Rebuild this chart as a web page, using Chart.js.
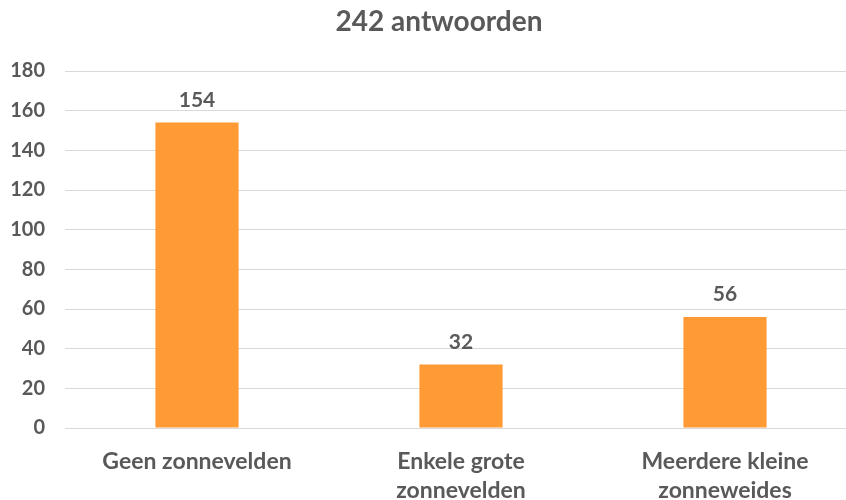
<!DOCTYPE html>
<html>
<head>
<meta charset="utf-8">
<script src="https://cdn.jsdelivr.net/npm/chart.js@4/dist/chart.umd.min.js"></script>
<style>
html,body{margin:0;padding:0;background:#fff;overflow:hidden;width:846px;height:500px;}
#wrap{position:absolute;left:0;top:0;width:880px;height:500px;}
</style>
</head>
<body>
<div id="wrap"><canvas id="c" width="880" height="500"></canvas></div>
<script>
const titleText = "242 antwoorden";
const categories = [["Geen zonnevelden"], ["Enkele grote", "zonnevelden"], ["Meerdere kleine", "zonneweides"]];
const values = [154, 32, 56];
const yTicks = [0, 20, 40, 60, 80, 100, 120, 140, 160, 180];

const textColor = "#595959";
const fontFam = "Lato, 'Open Sans', sans-serif";

const valueLabels = {
  id: "valueLabels",
  afterDatasetsDraw(chart) {
    const ctx = chart.ctx;
    const meta = chart.getDatasetMeta(0);
    ctx.save();
    ctx.font = "bold 21px " + fontFam;
    ctx.fillStyle = textColor;
    ctx.textAlign = "center";
    ctx.textBaseline = "alphabetic";
    meta.data.forEach((bar, i) => {
      ctx.fillText(String(chart.data.datasets[0].data[i]), bar.x, bar.y - 16);
    });
    ctx.restore();
  }
};

const chartTitle = {
  id: "chartTitle",
  afterDraw(chart) {
    const ctx = chart.ctx;
    ctx.save();
    ctx.font = "bold 28px " + fontFam;
    ctx.fillStyle = textColor;
    ctx.textAlign = "center";
    ctx.textBaseline = "middle";
    ctx.fillText(titleText, 439, 22);
    ctx.restore();
  }
};

new Chart(document.getElementById("c"), {
  type: "bar",
  data: {
    labels: categories,
    datasets: [{
      data: values,
      backgroundColor: "#FF9A35",
      borderWidth: 0,
      barPercentage: 0.315,
      categoryPercentage: 1.0
    }]
  },
  options: {
    responsive: false,
    animation: false,
    devicePixelRatio: 1,
    layout: { padding: { left: 0, right: 23, top: 71, bottom: 0 } },
    plugins: {
      legend: { display: false },
      tooltip: { enabled: false },
      title: { display: false }
    },
    scales: {
      x: {
        grid: { display: false, drawTicks: false },
        border: { display: false },
        ticks: {
          color: textColor,
          font: { family: fontFam, size: 23, weight: "bold", lineHeight: 1.22 },
          padding: 20,
          maxRotation: 0,
          autoSkip: false
        },
        afterFit(scale) { scale.height = 72; }
      },
      y: {
        min: 0,
        max: 180,
        afterBuildTicks(scale) { scale.ticks = yTicks.map(v => ({ value: v })); },
        grid: { color: "#D9D9D9", lineWidth: 1, drawTicks: false },
        border: { display: false },
        ticks: {
          color: textColor,
          font: { family: fontFam, size: 20, weight: "bold" },
          padding: 20
        },
        afterFit(scale) { scale.width = 65; }
      }
    }
  },
  plugins: [valueLabels, chartTitle]
});
</script>
</body>
</html>
